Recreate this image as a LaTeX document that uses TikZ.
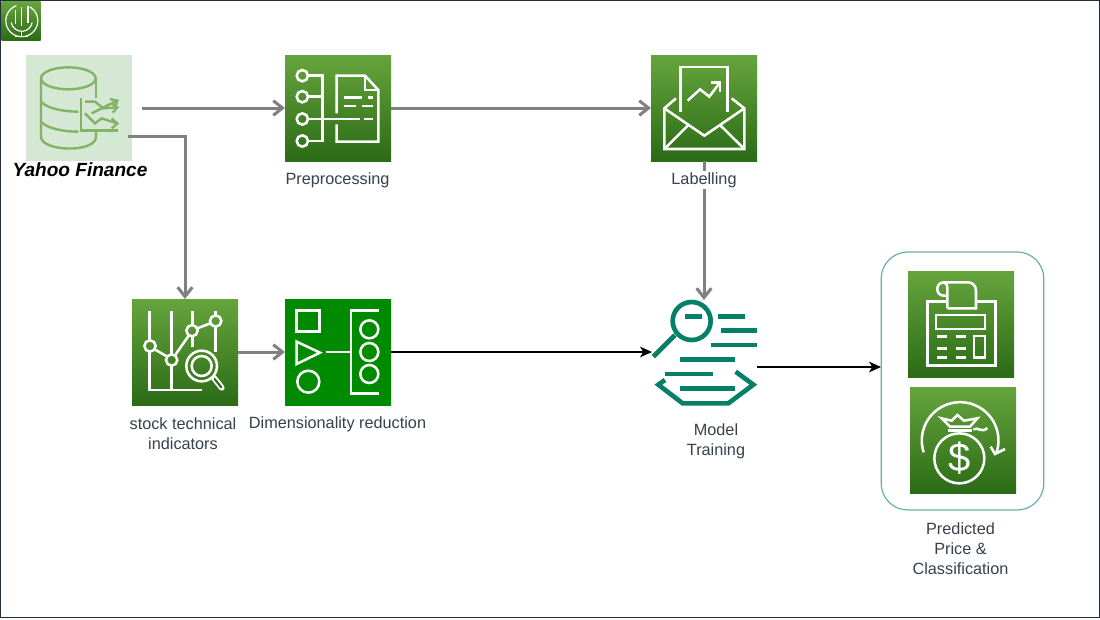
\documentclass[tikz,border=0pt]{standalone}
\usepackage{fontspec}
\setmainfont{Liberation Sans}
\usepackage{xcolor}
\usetikzlibrary{arrows.meta}
\definecolor{awstop}{RGB}{102,165,60}
\definecolor{awsbottom}{RGB}{43,107,22}
\definecolor{darkgreen}{RGB}{0,138,0}
\definecolor{palegreen}{RGB}{213,232,212}
\definecolor{midgreen}{RGB}{130,179,102}
\definecolor{tealgreen}{RGB}{6,127,104}
\definecolor{framecolor}{RGB}{35,47,62}
\definecolor{labelcolor}{RGB}{55,65,75}
\tikzset{
  iconbox/.style={minimum size=79.5pt, inner sep=0pt, outer sep=0pt, top color=awstop, bottom color=awsbottom},
  caption/.style={align=center, text=labelcolor, font=\fontsize{12.2}{15}\selectfont, fill=white, inner sep=1pt},
  flow/.style={draw=gray, line width=2.25pt, -{Straight Barb[length=7pt,width=11pt]}},
  blackflow/.style={draw=black, line width=0.8pt, -{Stealth[length=9pt,width=8pt,inset=2.5pt]}},
  glyph/.style={draw=white, line width=1.9pt},
  zoomed/.style={shift={#1}, x=0.25pt, y=-0.25pt}
}
\begin{document}
\begin{tikzpicture}[x=0.75pt, y=-0.75pt]
  \useasboundingbox (0,0) rectangle (1100,619);
  \fill[white] (0,0) rectangle (1100,619);
  \draw[framecolor, line width=0.9pt] (0.5,0.5) rectangle (1099.5,617.5);

  % Main components
  \node[minimum size=79.5pt, inner sep=0pt, outer sep=0pt, fill=palegreen] (yahoo) at (79,108) {};
  \node[iconbox] (prep) at (338,108) {};
  \node[iconbox] (labelbox) at (704,108) {};

  % Second row
  \node[iconbox] (stock) at (185,352) {};
  \node[iconbox, top color=darkgreen, bottom color=darkgreen] (dimred) at (338,352) {};
  \node[minimum size=78pt, inner sep=0pt, outer sep=0pt] (model) at (704,352) {};

  % Output group
  \node[draw=tealgreen!60, line width=0.9pt, rounded corners=20pt, minimum width=122pt, minimum height=193.5pt, inner sep=0pt, outer sep=0pt] (result) at (962.5,381) {};
  \node[iconbox] (calc) at (961,324) {};
  \node[iconbox] (money) at (963,440) {};

  % Logo
  \node[minimum size=29.25pt, inner sep=0pt, outer sep=0pt, top color=awstop, bottom color=awsbottom] (logo) at (21,21) {};
  \begin{scope}[zoomed={(0,0)}, draw=white, line width=0.9pt]
    \draw (49,17) arc[start angle=250, end angle=-60, radius=48];
    \draw (33.5,67.5) arc[start angle=170, end angle=10, radius=32];
    \draw (65,22) -- (65,78);
    \draw (46,30) -- (46,72);
    \draw (84,18) -- (84,70);
    \draw (65,94) -- (65,110);
    \draw (45,110) -- (85,110);
  \end{scope}

  % Database icon
  \begin{scope}[zoomed={(0,0)}, draw=midgreen, line width=1.8pt]
    \draw (205,235) ellipse [x radius=82, y radius=33];
    \draw (288,295) -- (288,235);
    \draw (123,235) -- (123,410) .. controls (123,455) and (288,460) .. (288,410) -- (288,395);
    \draw (123,305) .. controls (140,325) and (190,335) .. (235,335);
    \draw (123,365) .. controls (140,385) and (190,395) .. (235,395);
    \draw (243,295) -- (243,392) -- (355,392);
    \draw (255,305) -- (285,305) -- (310,325) -- (352,322);
    \draw (275,340) -- (305,325) -- (325,315) -- (352,302);
    \draw (255,340) -- (285,370) -- (305,355) -- (350,370);
    \draw (330,297) -- (352,302) -- (345,322);
    \draw (335,310) -- (352,322) -- (338,338);
    \draw (335,355) -- (352,371) -- (335,385);
  \end{scope}

  % Preprocessing icon
  \begin{scope}[zoomed={(270,45)}]
    \foreach \cy in {92,155,222,288}
      \draw[glyph] (97,\cy) circle [radius=17];
    \draw[glyph] (114,92) -- (158,92) -- (158,288) -- (114,288);
    \draw[glyph] (114,155) -- (158,155);
    \draw[glyph] (114,222) -- (270,222);
    \draw[glyph] (282,222) -- (310,222);
    \draw[glyph] (200,205) -- (200,92) -- (285,92) -- (325,135) -- (325,290) -- (200,290) -- (200,238);
    \draw[glyph] (285,92) -- (285,135) -- (325,135);
    \draw[glyph] (222,158) -- (275,158);
    \draw[glyph] (293,158) -- (310,158);
    \draw[glyph] (222,183) -- (258,183);
    \draw[glyph] (275,183) -- (310,183);
  \end{scope}

  % Labelling icon
  \begin{scope}[zoomed={(640,45)}]
    \draw[glyph] (122,200) -- (122,66) -- (263,66) -- (263,200);
    \draw[glyph] (143,167) -- (180,133) -- (208,155) -- (240,112);
    \draw[glyph] (212,112) -- (240,112) -- (240,140);
    \draw[glyph] (108,160) -- (73,190) -- (73,312) -- (313,312) -- (313,190) -- (275,160);
    \draw[glyph] (73,190) -- (193,272) -- (313,190);
    \draw[glyph] (73,312) -- (145,240);
    \draw[glyph] (313,312) -- (240,240);
  \end{scope}

  % Technical indicators icon
  \begin{scope}[zoomed={(120,290)}]
    \draw[glyph] (88,62) -- (88,150);
    \draw[glyph] (88,186) -- (88,300) -- (245,300);
    \draw[glyph] (155,62) -- (155,192);
    \draw[glyph] (155,228) -- (155,300);
    \draw[glyph] (218,62) -- (218,104);
    \draw[glyph] (218,140) -- (218,170);
    \draw[glyph] (287,62) -- (287,75);
    \draw[glyph] (287,111) -- (287,185);
    \draw[glyph] (90,168) circle [radius=17];
    \draw[glyph] (155,210) circle [radius=17];
    \draw[glyph] (216,122) circle [radius=17];
    \draw[glyph] (287,93) circle [radius=17];
    \draw[glyph] (104,178) -- (142,200);
    \draw[glyph] (165,196) -- (206,137);
    \draw[glyph] (232,115) -- (271,100);
    \draw[glyph] (245,228) circle [radius=46];
    \draw[glyph] (245,228) circle [radius=30];
    \draw[white, line width=4.4pt, line cap=round] (282,264) -- (305,293);
    \draw[awsbottom, line width=1.6pt, line cap=round] (284,267) -- (304,292);
  \end{scope}

  % Dimensionality reduction icon
  \begin{scope}[zoomed={(120,290)}]
    \draw[glyph] (530,62) rectangle (598,125);
    \draw[glyph] (530,155) -- (600,188) -- (530,222) -- cycle;
    \draw[glyph] (565,275) circle [radius=33];
    \draw[glyph] (618,186) -- (693,186);
    \draw[glyph] (778,62) -- (693,62) -- (693,310) -- (778,310);
    \foreach \cy in {118,186,252}
      \draw[glyph] (748,\cy) circle [radius=27];
  \end{scope}

  % Model training icon
  \begin{scope}[zoomed={(640,290)}, draw=tealgreen, line width=3.5pt]
    \draw (155,93) circle [radius=57];
    \draw (105,135) -- (40,200);
    \draw (135,79) -- (185,79);
    \draw (235,79) -- (315,79);
    \draw (242,122) -- (350,122);
    \draw (213,165) -- (350,165);
    \draw (120,208) -- (285,208);
    \draw (75,252) -- (220,252);
    \draw (120,295) -- (285,295);
    \draw (75,270) -- (55,284) -- (128,340) -- (265,340) -- (340,284) -- (287,245);
  \end{scope}

  % Calculator icon
  \begin{scope}[zoomed={(870,250)}]
    \draw[glyph] (232,155) -- (172,155) -- (172,347) -- (377,347) -- (377,155) -- (318,155);
    \draw[glyph] (232,175) -- (318,175) -- (318,122) .. controls (318,105) and (305,97) .. (295,97) -- (222,97) .. controls (195,97) and (195,137) .. (222,137) -- (232,137);
    \draw[glyph] (232,175) -- (232,115) .. controls (232,105) and (228,97) .. (222,97);
    \draw[glyph] (198,195) rectangle (345,237);
    \foreach \ry in {260,295,322} {
      \draw[glyph] (202,\ry) -- (230,\ry);
      \draw[glyph] (257,\ry) -- (288,\ry);
    }
    \draw[glyph] (312,258) rectangle (345,322);
  \end{scope}

  % Money bag icon
  \begin{scope}[zoomed={(870,250)}]
    \draw[glyph] (161,607) arc[start angle=162, end angle=379, radius=115];
    \draw[glyph] (362,590) -- (375,612) -- (405,597);
    \draw[glyph] (268,625) circle [radius=75];
    \draw[glyph] (240,530) -- (215,505) -- (245,512) -- (262,495) -- (282,512) -- (322,505) -- (300,530) -- cycle;
    \draw[glyph] (235,542) -- (305,542);
    \draw[glyph] (310,538) .. controls (325,530) and (335,550) .. (352,534);
    \node[text=white, inner sep=0pt, font=\fontsize{30}{30}\selectfont] (dollar) at (270,625) {\$};
  \end{scope}

  % Arrows showing data flow
  \coordinate (yahooright) at (142,108);
  \coordinate (yahoodown) at (128,136);
  \coordinate (modelout) at (757,367);
  \coordinate (resultin) at (881,367);
  \draw[flow] (yahooright) -- (prep.west);
  \draw[flow] (yahoodown) -| (stock.north);
  \draw[flow] (prep.east) -- (labelbox.west);
  \draw[flow] (labelbox.south) -- (model.north);
  \draw[flow] (stock.east) -- (dimred.west);
  \draw[blackflow] (dimred.east) -- (model.west);
  \draw[blackflow] (modelout) -- (resultin);

  % Labels
  \node[text=black, inner sep=0pt, font=\fontsize{14.3}{16}\selectfont\bfseries\itshape] (yahootext) at (80,169.5) {Yahoo Finance};
  \node[caption] (preptext) at (337.5,180) {Preprocessing};
  \node[caption] (labeltext) at (704,180) {Labelling};
  \node[caption] (stocktext) at (183,433.5) {stock technical\\indicators};
  \node[caption] (dimtext) at (337.5,424) {Dimensionality reduction};
  \node[caption] (modeltext) at (716,441) {Model\\Training};
  \node[caption] (resulttext) at (960.5,548.5) {Predicted\\Price \&\\Classification};
\end{tikzpicture}
\end{document}
